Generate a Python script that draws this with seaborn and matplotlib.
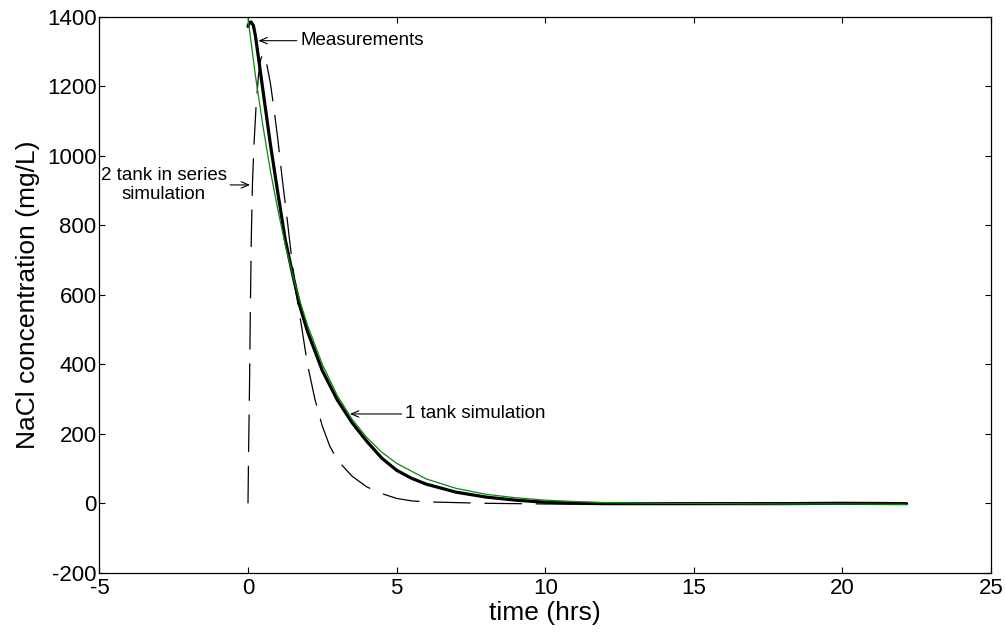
import matplotlib
matplotlib.use("Agg")
import matplotlib.pyplot as plt
import numpy as np
import pandas as pd
import seaborn as sns

# ---- data ----
meas_t = [0.0, 0.05, 0.1, 0.18, 0.25, 0.5, 0.75, 1.0, 1.25, 1.5, 1.75, 2.0, 2.5,
          3.0, 3.5, 4.0, 4.5, 5.0, 5.5, 6.0, 7.0, 8.0, 9.0, 10.0, 11.0, 12.0,
          14.0, 16.0, 18.0, 20.0, 22.16]
meas_c = [1372, 1383, 1385, 1375, 1345, 1190, 1035, 895, 760, 660, 566, 495, 382,
          298, 232, 178, 130, 95, 72, 55, 32, 18, 9, 3, 0, -1,
          -1, -1, -1, 0, -1]

one_t = [0.0, 0.25, 0.5, 0.75, 1.0, 1.25, 1.5, 1.75, 2.0, 2.5, 3.0, 3.5, 4.0,
         4.5, 5.0, 6.0, 7.0, 8.0, 9.0, 10.0, 11.0, 12.0, 14.0, 16.0, 18.0,
         20.0, 22.16]
one_c = [1395, 1230, 1087, 958, 846, 746, 658, 581, 513, 400, 311, 242, 189,
         147, 115, 70, 43, 26, 16, 9, 5, 2, 0, -1, -2,
         -2, -3]

two_t = [0.0, 0.02, 0.05, 0.08, 0.11, 0.15, 0.2, 0.27, 0.35, 0.43, 0.5, 0.57,
         0.65, 0.75, 0.85, 1.0, 1.15, 1.3, 1.45, 1.6, 1.8, 2.0, 2.25, 2.5,
         2.75, 3.0, 3.5, 4.0, 4.5, 5.0, 5.5, 6.0, 7.0, 8.0, 10.0, 14.0, 18.0,
         22.16]
two_c = [0, 150, 330, 560, 760, 920, 1030, 1140, 1230, 1278, 1292, 1288,
         1255, 1210, 1150, 1050, 935, 830, 720, 615, 510, 400, 300, 222,
         165, 125, 78, 47, 28, 14, 7, 4, 2, 0, -2, -3, -3,
         -3]

x_ticks = [-5, 0, 5, 10, 15, 20, 25]
y_ticks = [-200, 0, 200, 400, 600, 800, 1000, 1200, 1400]

x_label = "time (hrs)"
y_label = "NaCl concentration (mg/L)"
ann_meas = "Measurements"
ann_two = "2 tank in series\nsimulation"
ann_one = "1 tank simulation"

# ---- style ----
sns.set_style("ticks")
plt.rcParams["font.family"] = ["Liberation Sans", "DejaVu Sans"]
plt.rcParams["xtick.direction"] = "in"
plt.rcParams["ytick.direction"] = "in"
plt.rcParams["text.color"] = "black"
plt.rcParams["axes.labelcolor"] = "black"
plt.rcParams["xtick.color"] = "black"
plt.rcParams["ytick.color"] = "black"

df_meas = pd.DataFrame({"t": meas_t, "c": meas_c})
df_one = pd.DataFrame({"t": one_t, "c": one_c})
df_two = pd.DataFrame({"t": two_t, "c": two_c})

fig = plt.figure(figsize=(10.06, 6.34), dpi=100)
ax = fig.add_axes([99.4 / 1006, (634 - 572.8) / 634, 891.6 / 1006, 556.1 / 634])

sns.lineplot(data=df_two, x="t", y="c", ax=ax, color="black", linewidth=0.9,
             sort=False, estimator=None, zorder=2)
ax.lines[-1].set_dashes((30, 11))
sns.lineplot(data=df_meas, x="t", y="c", ax=ax, color="black", linewidth=2.3,
             sort=False, estimator=None, zorder=3)
sns.lineplot(data=df_one, x="t", y="c", ax=ax, color="#0a8a0a", linewidth=0.9,
             sort=False, estimator=None, zorder=4)

ax.set_xlim(-5, 25)
ax.set_ylim(-200, 1400)
ax.set_xticks(x_ticks)
ax.set_yticks(y_ticks)
ax.set_xticklabels([str(v) for v in x_ticks])
ax.set_yticklabels([str(v) for v in y_ticks])
ax.tick_params(axis="both", which="both", direction="in", length=4, width=0.8,
               top=True, right=True, labelsize=16, colors="black",
               labelcolor="black")
ax.tick_params(axis="x", pad=4)
ax.tick_params(axis="y", pad=2)
for s in ax.spines.values():
    s.set_visible(True)
    s.set_color("black")
    s.set_linewidth(0.9)

ax.set_xlabel(x_label, fontsize=19, labelpad=1, color="black")
ax.set_ylabel(y_label, fontsize=19, labelpad=5, color="black")

arrow = dict(arrowstyle="->,head_length=0.4,head_width=0.17", color="black",
             lw=0.8, shrinkA=0, shrinkB=0)
ax.annotate(ann_meas, xy=(0.35, 1331), xytext=(1.75, 1331), fontsize=13.5,
            ha="left", va="center", color="black", arrowprops=arrow)
ax.annotate(ann_two, xy=(0.07, 916), xytext=(-2.83, 916), fontsize=13.5,
            ha="center", va="center", multialignment="center", color="black",
            arrowprops=arrow)
ax.annotate(ann_one, xy=(3.43, 257), xytext=(5.28, 257), fontsize=13.5,
            ha="left", va="center", color="black", arrowprops=arrow)

fig.savefig("out.png", dpi=100)
